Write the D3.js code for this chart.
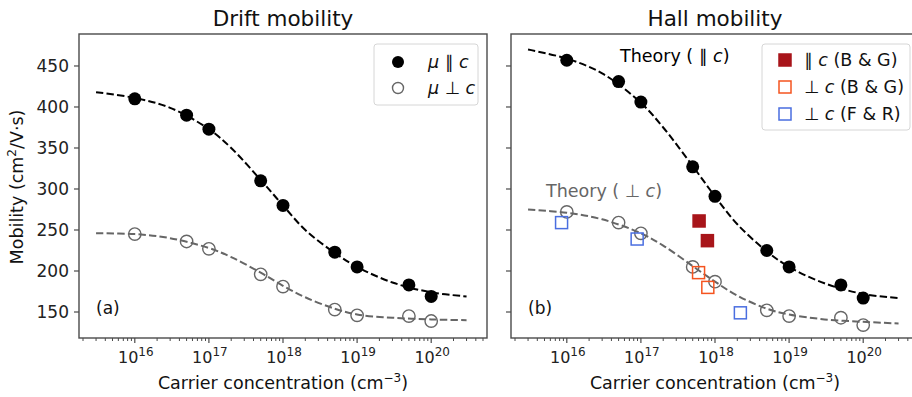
<!DOCTYPE html>
<html>
<head>
<meta charset="utf-8">
<script src="https://cdn.jsdelivr.net/npm/d3@7"></script>
<style>
  body { margin: 0; background: #fff; }
  svg { display: block; font-family: 'DejaVu Sans', sans-serif; }
  .frame { fill: none; stroke: #4a4a4a; stroke-width: 1.4; }
  .tick-line { stroke: #4a4a4a; stroke-width: 1.2; }
  .tick-text { fill: #222; }
</style>
</head>
<body>
<svg id="fig" width="912" height="397"></svg>
<script>
//////////////////////////////////////////////////////////////////////////////////////////
// Data
//////////////////////////////////////////////////////////////////////////////////////////
var conc = [1e16, 5e16, 1e17, 5e17, 1e18, 5e18, 1e19, 5e19, 1e20]
var drift_par = [410, 390, 373, 310, 280, 223, 205, 183, 169]
var drift_perp = [245, 236, 227, 196, 181, 153, 146, 145, 139]
var hall_par = [457, 431, 406, 327, 291, 225, 205, 183, 167]
var hall_perp = [272, 259, 246, 205, 187, 152, 145, 143, 134]

var theory_conc = [3e15, 1e16, 3e16, 1e17, 2e17, 5e17, 1e18, 2e18, 5e18, 1e19, 3e19, 1e20, 3e20]
var theory_drift_par = [418, 411, 399, 373, 350, 311, 280, 250, 222, 205, 186, 174, 169]
var theory_drift_perp = [246, 245, 240, 228, 217, 198, 182, 168, 154, 147, 143, 141, 140]
var theory_hall_par = [470, 459, 441, 405, 375, 328, 291, 257, 224, 205, 185, 172, 167]
var theory_hall_perp = [275, 271, 263, 246, 231, 206, 187, 170, 154, 147, 141, 138, 136]

var bg_par_conc = [6.1e17, 7.9e17]
var bg_par_mu = [261, 237]
var bg_perp_conc = [6.0e17, 8.0e17]
var bg_perp_mu = [198, 180]
var fr_perp_conc = [8.5e15, 8.9e16, 2.2e18]
var fr_perp_mu = [259, 239, 149]

var y_ticks = [150, 200, 250, 300, 350, 400, 450]
var x_ticks = [16, 17, 18, 19, 20]

//////////////////////////////////////////////////////////////////////////////////////////
// Layout
//////////////////////////////////////////////////////////////////////////////////////////
var panel_w = 408
var panel_top = 34
var panel_bottom = 338
var panel_left = { 'a': 79, 'b': 511 }
var col = {
  'black': '#000',
  'gray': '#666',
  'red': '#a8151a',
  'orange': '#f5541f',
  'blue': '#4a6ee0'
}

var svg = d3.select('#fig')

var y = d3.scaleLinear()
  .domain([118.3, 489])
  .range([panel_bottom, panel_top])

function x_scale(left) {
  return d3.scaleLog()
    .domain([Math.pow(10, 15.247), Math.pow(10, 20.753)])
    .range([left, left + panel_w])
}

//////////////////////////////////////////////////////////////////////////////////////////
// Panels
//////////////////////////////////////////////////////////////////////////////////////////
draw_panel('a', 'Drift mobility', theory_drift_par, theory_drift_perp, drift_par, drift_perp)
draw_panel('b', 'Hall mobility', theory_hall_par, theory_hall_perp, hall_par, hall_perp)
draw_hall_extras()
draw_drift_legend()
draw_hall_legend()

svg.append('text')
  .attr('transform', 'translate(23,187) rotate(-90)')
  .attr('text-anchor', 'middle')
  .style('font-size', '17.5px')
  .attr('fill', '#111')
  .text('Mobility (cm')
  .call(function(t) {
    t.append('tspan').attr('dy', -7).style('font-size', '12px').text('2')
    t.append('tspan').attr('dy', 7).text('/V·s)')
  })

function draw_panel(id, title, th_par, th_perp, pt_par, pt_perp) {
  var left = panel_left[id]
  var x = x_scale(left)
  var g = svg.append('g').attr('id', 'g-panel-' + id)

  draw_axes()
  draw_curve(th_par, col['black'])
  draw_curve(th_perp, col['gray'])
  draw_points()
  draw_texts()

  function draw_axes() {
    g.append('rect')
      .attr('class', 'frame')
      .attr('x', left)
      .attr('y', panel_top)
      .attr('width', panel_w)
      .attr('height', panel_bottom - panel_top)

    g.selectAll('.ytick')
      .data(y_ticks)
      .enter()
      .append('line')
      .attr('class', 'tick-line')
      .attr('x1', left - 5)
      .attr('x2', left)
      .attr('y1', function(d) { return y(d) })
      .attr('y2', function(d) { return y(d) })

    if (id == 'a') {
      g.selectAll('.ylabel')
        .data(y_ticks)
        .enter()
        .append('text')
        .attr('class', 'tick-text')
        .attr('x', left - 10)
        .attr('y', function(d) { return y(d) + 6 })
        .attr('text-anchor', 'end')
        .style('font-size', '17px')
        .text(function(d) { return d })
    }

    var minor = []
    for (var e = 15; e <= 20; e++) {
      for (var m = 2; m <= 9; m++) {
        var v = m * Math.pow(10, e)
        if (v > x.domain()[0] && v < x.domain()[1]) minor.push(v)
      }
    }
    g.selectAll('.xminor')
      .data(minor)
      .enter()
      .append('line')
      .attr('class', 'tick-line')
      .attr('x1', function(d) { return x(d) })
      .attr('x2', function(d) { return x(d) })
      .attr('y1', panel_bottom)
      .attr('y2', panel_bottom + 3)
      .style('stroke-width', 1)

    g.selectAll('.xmajor')
      .data(x_ticks)
      .enter()
      .append('line')
      .attr('class', 'tick-line')
      .attr('x1', function(d) { return x(Math.pow(10, d)) })
      .attr('x2', function(d) { return x(Math.pow(10, d)) })
      .attr('y1', panel_bottom)
      .attr('y2', panel_bottom + 5)

    var lab = g.selectAll('.xlabel')
      .data(x_ticks)
      .enter()
      .append('text')
      .attr('class', 'tick-text')
      .attr('x', function(d) { return x(Math.pow(10, d)) + 1 })
      .attr('y', 363)
      .attr('text-anchor', 'middle')
      .style('font-size', '16px')
    lab.append('tspan').text('10')
    lab.append('tspan')
      .attr('dy', -7)
      .style('font-size', '12px')
      .text(function(d) { return d })

    g.append('text')
      .attr('x', left + panel_w / 2)
      .attr('y', 26)
      .attr('text-anchor', 'middle')
      .style('font-size', '21.5px')
      .attr('fill', '#111')
      .text(title)

    var xl = g.append('text')
      .attr('x', left + panel_w / 2)
      .attr('y', 389)
      .attr('text-anchor', 'middle')
      .style('font-size', '17.5px')
      .attr('fill', '#111')
    xl.append('tspan').text('Carrier concentration (cm')
    xl.append('tspan').attr('dy', -7).style('font-size', '12px').text('−3')
    xl.append('tspan').attr('dy', 7).text(')')
  }

  function draw_curve(vals, color) {
    var line = d3.line()
      .x(function(d, i) { return x(theory_conc[i]) })
      .y(function(d) { return y(d) })
      .curve(d3.curveCatmullRom.alpha(0.5))
    g.append('path')
      .attr('d', line(vals))
      .attr('fill', 'none')
      .attr('stroke', color)
      .attr('stroke-width', 2)
      .attr('stroke-dasharray', '7.4,3.2')
  }

  function draw_points() {
    g.selectAll('.pt-perp')
      .data(pt_perp)
      .enter()
      .append('circle')
      .attr('cx', function(d, i) { return x(conc[i]) })
      .attr('cy', function(d) { return y(d) })
      .attr('r', 6.2)
      .attr('fill', 'none')
      .attr('stroke', col['gray'])
      .attr('stroke-width', 1.4)

    g.selectAll('.pt-par')
      .data(pt_par)
      .enter()
      .append('circle')
      .attr('cx', function(d, i) { return x(conc[i]) })
      .attr('cy', function(d) { return y(d) })
      .attr('r', 6.5)
      .attr('fill', col['black'])
  }

  function draw_texts() {
    g.append('text')
      .attr('x', left + 17)
      .attr('y', 314)
      .style('font-size', '17px')
      .attr('fill', '#111')
      .text('(' + id + ')')
  }
}

function draw_hall_extras() {
  var x = x_scale(panel_left['b'])
  var g = d3.select('#g-panel-b')

  draw_squares(fr_perp_conc, fr_perp_mu, 'none', col['blue'])
  draw_squares(bg_perp_conc, bg_perp_mu, 'none', col['orange'])
  draw_squares(bg_par_conc, bg_par_mu, col['red'], col['red'])

  theory_label(620, 62, '∥', col['black'])
  theory_label(546, 197, '⊥', col['gray'])

  function draw_squares(xs, ys, fill, stroke) {
    g.selectAll('.sq')
      .data(ys)
      .enter()
      .append('rect')
      .attr('x', function(d, i) { return x(xs[i]) - 6 })
      .attr('y', function(d) { return y(d) - 6 })
      .attr('width', 12)
      .attr('height', 12)
      .attr('fill', fill)
      .attr('stroke', stroke)
      .attr('stroke-width', 1.5)
  }

  function theory_label(tx, ty, sym, color) {
    var t = g.append('text')
      .attr('x', tx)
      .attr('y', ty)
      .style('font-size', '17.5px')
      .attr('fill', color)
    t.append('tspan').text('Theory ( ' + sym)
    t.append('tspan').style('font-style', 'italic').text(' c')
    t.append('tspan').text(')')
  }
}

//////////////////////////////////////////////////////////////////////////////////////////
// Legends
//////////////////////////////////////////////////////////////////////////////////////////
function legend_box(x0, y0, w, h) {
  return svg.append('rect')
    .attr('x', x0)
    .attr('y', y0)
    .attr('width', w)
    .attr('height', h)
    .attr('rx', 3)
    .attr('fill', 'white')
    .attr('fill-opacity', 0.85)
    .attr('stroke', '#d6d6d6')
    .attr('stroke-width', 1)
}

function legend_text(tx, ty, parts) {
  var t = svg.append('text')
    .attr('x', tx)
    .attr('y', ty + 6)
    .style('font-size', '17.5px')
    .attr('fill', '#111')
  parts.forEach(function(p) {
    t.append('tspan')
      .style('font-style', p[1] ? 'italic' : 'normal')
      .text(p[0])
  })
}

function draw_drift_legend() {
  var rows = [62, 88]
  legend_box(374, 44, 104, 61)

  svg.append('circle')
    .attr('cx', 398).attr('cy', rows[0]).attr('r', 6)
    .attr('fill', col['black'])
  svg.append('circle')
    .attr('cx', 398).attr('cy', rows[1]).attr('r', 5.5)
    .attr('fill', 'none').attr('stroke', col['gray']).attr('stroke-width', 1.4)

  legend_text(428, rows[0], [['μ', true], [' ∥', false], [' c', true]])
  legend_text(428, rows[1], [['μ', true], [' ⊥', false], [' c', true]])
}

function draw_hall_legend() {
  var rows = [60, 87, 114]
  var items = [
    [col['red'], col['red'], '∥', '(B & G)'],
    ['none', col['orange'], '⊥', '(B & G)'],
    ['none', col['blue'], '⊥', '(F & R)']
  ]
  legend_box(762, 44, 148, 86)

  items.forEach(function(it, i) {
    svg.append('rect')
      .attr('x', 785 - 6)
      .attr('y', rows[i] - 6)
      .attr('width', 12)
      .attr('height', 12)
      .attr('fill', it[0])
      .attr('stroke', it[1])
      .attr('stroke-width', 1.5)
    legend_text(804, rows[i], [[it[2], false], [' c', true], [' ' + it[3], false]])
  })
}
</script>
</body>
</html>
